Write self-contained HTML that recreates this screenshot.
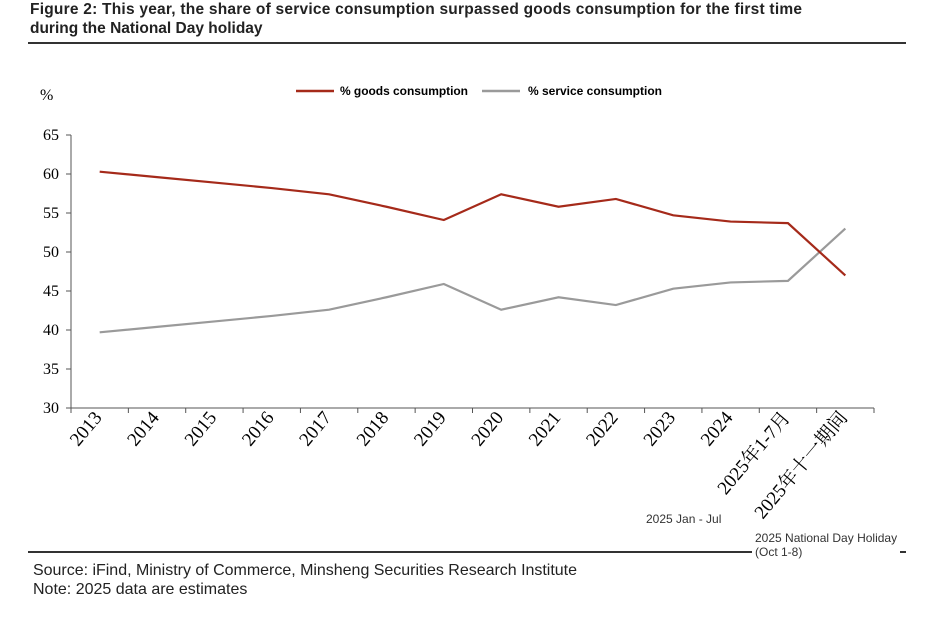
<!DOCTYPE html>
<html><head><meta charset="utf-8"><style>
body{margin:0;background:#fff;width:939px;height:621px;overflow:hidden;font-family:"Liberation Sans",sans-serif}
</style></head><body>
<svg width="939" height="621" style="position:absolute;left:0;top:0">
<text x="30" y="14" font-size="15.5" font-weight="bold" fill="#222" textLength="772">Figure 2: This year, the share of service consumption surpassed goods consumption for the first time</text>
<text x="30" y="33" font-size="15.5" font-weight="bold" fill="#222">during the National Day holiday</text>
<line x1="28" y1="43" x2="906" y2="43" stroke="#333" stroke-width="2"/>
<text x="40" y="100" font-size="16" font-family="Liberation Serif">%</text>
<g>
<line x1="296" y1="91" x2="334" y2="91" stroke="#a52a1a" stroke-width="2.5"/>
<text x="340" y="95" font-size="12" font-weight="bold" textLength="128">% goods consumption</text>
<line x1="482" y1="91" x2="520" y2="91" stroke="#9a9a9a" stroke-width="2.5"/>
<text x="528" y="95" font-size="12" font-weight="bold" textLength="134">% service consumption</text>
</g>
<g id="axes"></g>
<g id="series"></g>
<text x="646" y="523" font-size="12" fill="#333">2025 Jan - Jul</text>
<text x="755" y="542" font-size="12" fill="#333">2025 National Day Holiday</text>
<text x="755" y="556" font-size="12" fill="#333">(Oct 1-8)</text>
<line x1="28" y1="552" x2="752" y2="552" stroke="#333" stroke-width="2"/>
<line x1="900" y1="552" x2="906" y2="552" stroke="#333" stroke-width="2"/>
<text x="33" y="575" font-size="16" fill="#222" textLength="544">Source: iFind, Ministry of Commerce, Minsheng Securities Research Institute</text>
<text x="33" y="594" font-size="16" fill="#222">Note: 2025 data are estimates</text>
</svg>
<script>
const categories=["2013","2014","2015","2016","2017","2018","2019","2020","2021","2022","2023","2024","2025年1-7月","2025年十一期间"];
const goods=[60.3,59.6,58.9,58.2,57.4,55.8,54.1,57.4,55.8,56.8,54.7,53.9,53.7,47.0];
const service=[39.7,40.4,41.1,41.8,42.6,44.2,45.9,42.6,44.2,43.2,45.3,46.1,46.3,53.0];
const yTicks=[30,35,40,45,50,55,60,65];
const NS="http://www.w3.org/2000/svg";
const x0=71,x1=874,yTop=135,yBot=408,ymin=30,ymax=65;
const bw=(x1-x0)/categories.length;
const X=i=>x0+bw*(i+0.5);
const Y=v=>yBot-(v-ymin)/(ymax-ymin)*(yBot-yTop);
function mk(t,a,p){const e=document.createElementNS(NS,t);for(const k in a)e.setAttribute(k,a[k]);p.appendChild(e);return e;}
const ax=document.getElementById('axes');
let l=mk('line',{x1:x0,y1:yTop,x2:x0,y2:yBot,stroke:'#555'},ax);


l=mk('line',{x1:x0,y1:yBot,x2:x1,y2:yBot,stroke:'#555'},ax);


yTicks.forEach(v=>{
 mk('line',{x1:x0-5,y1:Y(v),x2:x0,y2:Y(v),stroke:'#555'},ax);
 const t=mk('text',{x:x0-12,y:Y(v)+5,'text-anchor':'end','font-size':16,'font-family':'Liberation Serif'},ax);
 t.textContent=v;
 
 
});
for(let i=0;i<=categories.length;i++)mk('line',{x1:x0+bw*i,y1:yBot,x2:x0+bw*i,y2:yBot+5,stroke:'#555'},ax);
categories.forEach((c,i)=>{
 const x=X(i)+3,y=418;
 const t=mk('text',{x:x,y:y,'text-anchor':'end','font-size':19,'font-family':'"Liberation Serif","Noto Serif CJK SC",serif',transform:`rotate(-50 ${x} ${y})`},ax);
 t.textContent=c;
 
 
});
const sg=document.getElementById('series');
function line(vals,col,name){
 const p=mk('polyline',{points:vals.map((v,i)=>X(i)+','+Y(v)).join(' '),fill:'none',stroke:col,'stroke-width':2.2},sg);
 
 
}
line(service,'#9a9a9a','service-line');
line(goods,'#a52a1a','goods-line');
</script>
</body></html>
